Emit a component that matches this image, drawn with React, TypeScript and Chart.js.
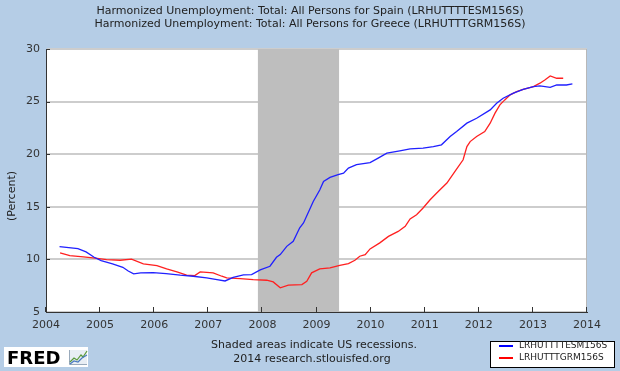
import React, { useEffect, useRef } from "react";
import { Chart, registerables } from "chart.js";

Chart.register(...registerables);

const titleLines = [
  "Harmonized Unemployment: Total: All Persons for Spain (LRHUTTTTESM156S)",
  "Harmonized Unemployment: Total: All Persons for Greece (LRHUTTTGRM156S)",
];
const seriesNames = ["LRHUTTTTESM156S", "LRHUTTTGRM156S"];
const yAxisLabel = "(Percent)";
const footnotes = ["Shaded areas indicate US recessions.", "2014 research.stlouisfed.org"];
const recession = [2007.917, 2009.417];

const spainYears = [
  2004.25, 2004.42, 2004.59, 2004.74, 2004.89, 2005.02, 2005.23, 2005.42, 2005.52, 2005.62,
  2005.75, 2005.98, 2006.22, 2006.48, 2006.72, 2006.97, 2007.16, 2007.31, 2007.46, 2007.65,
  2007.8, 2007.96, 2008.14, 2008.26, 2008.33, 2008.45, 2008.57, 2008.69, 2008.76, 2008.94,
  2009.06, 2009.13, 2009.25, 2009.4, 2009.5, 2009.59, 2009.74, 2009.99, 2010.14, 2010.3,
  2010.54, 2010.73, 2010.97, 2011.16, 2011.31, 2011.47, 2011.59, 2011.78, 2011.96, 2012.21,
  2012.33, 2012.45, 2012.64, 2012.82, 2013.01, 2013.13, 2013.32, 2013.44, 2013.62, 2013.73,
];
const spainValues = [
  11.22, 11.12, 11.03, 10.71, 10.2, 9.89, 9.57, 9.25, 8.9, 8.62,
  8.72, 8.75, 8.65, 8.5, 8.4, 8.24, 8.08, 7.95, 8.3, 8.53,
  8.56, 9.0, 9.35, 10.2, 10.46, 11.24, 11.72, 13.0, 13.46, 15.5,
  16.6, 17.41, 17.8, 18.05, 18.2, 18.68, 19.0, 19.2, 19.63, 20.1,
  20.32, 20.51, 20.58, 20.73, 20.89, 21.68, 22.15, 22.95, 23.42, 24.21,
  24.85, 25.32, 25.8, 26.17, 26.42, 26.49, 26.36, 26.58, 26.58, 26.68,
];

const greeceYears = [
  2004.26, 2004.44, 2004.69, 2004.91, 2005.12, 2005.37, 2005.58, 2005.8, 2006.05, 2006.23,
  2006.42, 2006.6, 2006.75, 2006.85, 2007.09, 2007.25, 2007.34, 2007.59, 2007.83, 2008.08,
  2008.2, 2008.33, 2008.48, 2008.73, 2008.82, 2008.91, 2009.06, 2009.25, 2009.43, 2009.59,
  2009.71, 2009.8, 2009.9, 2009.99, 2010.17, 2010.33, 2010.51, 2010.64, 2010.73, 2010.85,
  2010.97, 2011.1, 2011.25, 2011.41, 2011.56, 2011.71, 2011.78, 2011.84, 2011.96, 2012.11,
  2012.21, 2012.3, 2012.39, 2012.48, 2012.58, 2012.7, 2012.82, 2013.01, 2013.13, 2013.22,
  2013.32, 2013.44, 2013.56,
];
const greeceValues = [
  10.62, 10.36, 10.24, 10.12, 9.98, 9.92, 10.02, 9.58, 9.4, 9.1,
  8.81, 8.5, 8.46, 8.81, 8.72, 8.4, 8.24, 8.18, 8.08, 8.02,
  7.86, 7.3, 7.55, 7.61, 7.92, 8.72, 9.1, 9.19, 9.44, 9.6,
  9.92, 10.3, 10.46, 11.0, 11.57, 12.19, 12.66, 13.14, 13.84, 14.25,
  14.89, 15.67, 16.46, 17.26, 18.36, 19.47, 20.73, 21.2, 21.68, 22.15,
  22.95, 23.9, 24.69, 25.16, 25.64, 25.95, 26.17, 26.42, 26.75, 27.06,
  27.44, 27.22, 27.22,
];

const xMin = 2004;
const xMax = 2014;
const yMin = 5;
const yMax = 30;

const BG = "rgb(181,205,230)";
const FONT = "'DejaVu Sans', sans-serif";

const decor = {
  id: "fredDecor",
  beforeDraw(chart: any) {
    const { ctx, chartArea: a, width, height } = chart;
    ctx.save();
    ctx.fillStyle = BG;
    ctx.fillRect(0, 0, width, height);
    ctx.fillStyle = "#ffffff";
    ctx.fillRect(a.left, a.top, a.right - a.left, a.bottom - a.top);
    ctx.restore();
  },
  beforeDatasetsDraw(chart: any) {
    const { ctx, chartArea: a, scales } = chart;
    const x0 = scales.x.getPixelForValue(recession[0]);
    const x1 = scales.x.getPixelForValue(recession[1]);
    ctx.save();
    ctx.fillStyle = "rgb(190,190,190)";
    ctx.fillRect(x0, a.top, x1 - x0, a.bottom - a.top);
    ctx.restore();
  },
  afterDraw(chart: any) {
    const { ctx, chartArea: a, scales, width } = chart;
    ctx.save();
    // right border
    ctx.strokeStyle = "#b8b8b8";
    ctx.lineWidth = 1;
    ctx.beginPath();
    ctx.moveTo(a.right - 0.5, a.top);
    ctx.lineTo(a.right - 0.5, a.bottom);
    ctx.stroke();
    // inward tick marks
    ctx.strokeStyle = "#333333";
    ctx.lineWidth = 1;
    for (let v = yMin; v <= yMax; v += 5) {
      const py = Math.round(scales.y.getPixelForValue(v)) + 0.5;
      ctx.beginPath();
      ctx.moveTo(a.left, py);
      ctx.lineTo(a.left + 4, py);
      ctx.stroke();
    }
    for (let v = xMin; v <= xMax; v += 1) {
      const px = Math.round(scales.x.getPixelForValue(v)) - 0.5;
      ctx.beginPath();
      ctx.moveTo(px, a.bottom);
      ctx.lineTo(px, a.bottom - 5);
      ctx.stroke();
    }
    // titles
    ctx.fillStyle = "#222222";
    ctx.font = `11px ${FONT}`;
    ctx.textAlign = "center";
    ctx.textBaseline = "middle";
    ctx.fillText(titleLines[0], width / 2, 11);
    ctx.fillText(titleLines[1], width / 2, 24);
    // y axis label
    ctx.save();
    ctx.translate(12, 196);
    ctx.rotate(-Math.PI / 2);
    ctx.fillText(yAxisLabel, 0, 0);
    ctx.restore();
    // footnotes
    ctx.fillText(footnotes[0], 314, 345);
    ctx.fillText(footnotes[1], 312, 359);
    // legend box
    const lx = 490, ly = 341, lw = 125, lh = 27;
    ctx.fillStyle = "#ffffff";
    ctx.fillRect(lx, ly, lw, lh);
    ctx.strokeStyle = "#000000";
    ctx.lineWidth = 1;
    ctx.strokeRect(lx + 0.5, ly + 0.5, lw - 1, lh - 1);
    const colors = ["#0000ff", "#ff0000"];
    const rows = [346, 358];
    ctx.font = `9px ${FONT}`;
    ctx.textAlign = "left";
    for (let i = 0; i < 2; i++) {
      ctx.strokeStyle = colors[i];
      ctx.lineWidth = 2;
      ctx.beginPath();
      ctx.moveTo(499, rows[i]);
      ctx.lineTo(513, rows[i]);
      ctx.stroke();
      ctx.fillStyle = "#222222";
      ctx.fillText(seriesNames[i], 519, rows[i]);
    }
    // FRED logo
    ctx.fillStyle = "#ffffff";
    ctx.fillRect(4, 347, 84, 20);
    ctx.fillStyle = "#000000";
    ctx.font = `bold 18px 'DejaVu Sans', sans-serif`;
    ctx.textBaseline = "alphabetic";
    ctx.fillText("FRED", 7, 364);
    // mini chart icon
    ctx.fillStyle = "#e8eef4";
    ctx.fillRect(69, 350, 18, 15);
    ctx.strokeStyle = "#9ab";
    ctx.lineWidth = 1;
    ctx.beginPath();
    ctx.moveTo(69.5, 350);
    ctx.lineTo(69.5, 364.5);
    ctx.lineTo(87, 364.5);
    ctx.stroke();
    ctx.strokeStyle = "#5a9a3a";
    ctx.lineWidth = 1.2;
    ctx.beginPath();
    ctx.moveTo(70, 362);
    ctx.lineTo(74, 358);
    ctx.lineTo(77, 360);
    ctx.lineTo(81, 355);
    ctx.lineTo(83, 357);
    ctx.lineTo(87, 351);
    ctx.stroke();
    ctx.strokeStyle = "#4a7ac0";
    ctx.beginPath();
    ctx.moveTo(70, 364);
    ctx.lineTo(74, 361);
    ctx.lineTo(78, 362);
    ctx.lineTo(82, 358);
    ctx.lineTo(87, 355);
    ctx.stroke();
    ctx.restore();
  },
};

export default function App() {
  const ref = useRef<HTMLCanvasElement | null>(null);
  useEffect(() => {
    if (!ref.current) return;
    Chart.defaults.font.family = FONT;
    const chart = new Chart(ref.current, {
      type: "line",
      data: {
        datasets: [
          {
            label: seriesNames[0],
            data: spainYears.map((x, i) => ({ x, y: spainValues[i] })),
            borderColor: "#2020ff",
            borderWidth: 1.3,
            pointRadius: 0,
            tension: 0,
          },
          {
            label: seriesNames[1],
            data: greeceYears.map((x, i) => ({ x, y: greeceValues[i] })),
            borderColor: "#ff2020",
            borderWidth: 1.3,
            pointRadius: 0,
            tension: 0,
          },
        ],
      },
      options: {
        responsive: false,
        animation: false,
        devicePixelRatio: 1,
        layout: { padding: { top: 49, right: 33, left: 0, bottom: 0 } },
        plugins: { legend: { display: false }, title: { display: false }, tooltip: { enabled: false } },
        scales: {
          x: {
            type: "linear",
            min: xMin,
            max: xMax,
            afterFit: (s: any) => { s.height = 59; },
            ticks: {
              stepSize: 1,
              callback: (v: any) => String(v),
              color: "#333333",
              font: { size: 11, family: FONT },
              padding: 7,
              maxRotation: 0,
              autoSkip: false,
            },
            grid: { display: false, drawTicks: false },
            border: { display: true, color: "#333333", width: 1 },
          },
          y: {
            type: "linear",
            min: yMin,
            max: yMax,
            afterFit: (s: any) => { s.width = 46; },
            ticks: {
              stepSize: 5,
              color: "#333333",
              font: { size: 11, family: FONT },
              padding: 6,
            },
            grid: { color: "#cdcdcd", lineWidth: 2, drawTicks: false },
            border: { display: true, color: "#333333", width: 1 },
          },
        },
      },
      plugins: [decor],
    });
    return () => chart.destroy();
  }, []);
  return (
    <div style={{ position: "fixed", left: 0, top: 0, width: 620, height: 371 }}>
      <canvas ref={ref} width={620} height={371} style={{ width: 620, height: 371, display: "block" }} />
    </div>
  );
}
